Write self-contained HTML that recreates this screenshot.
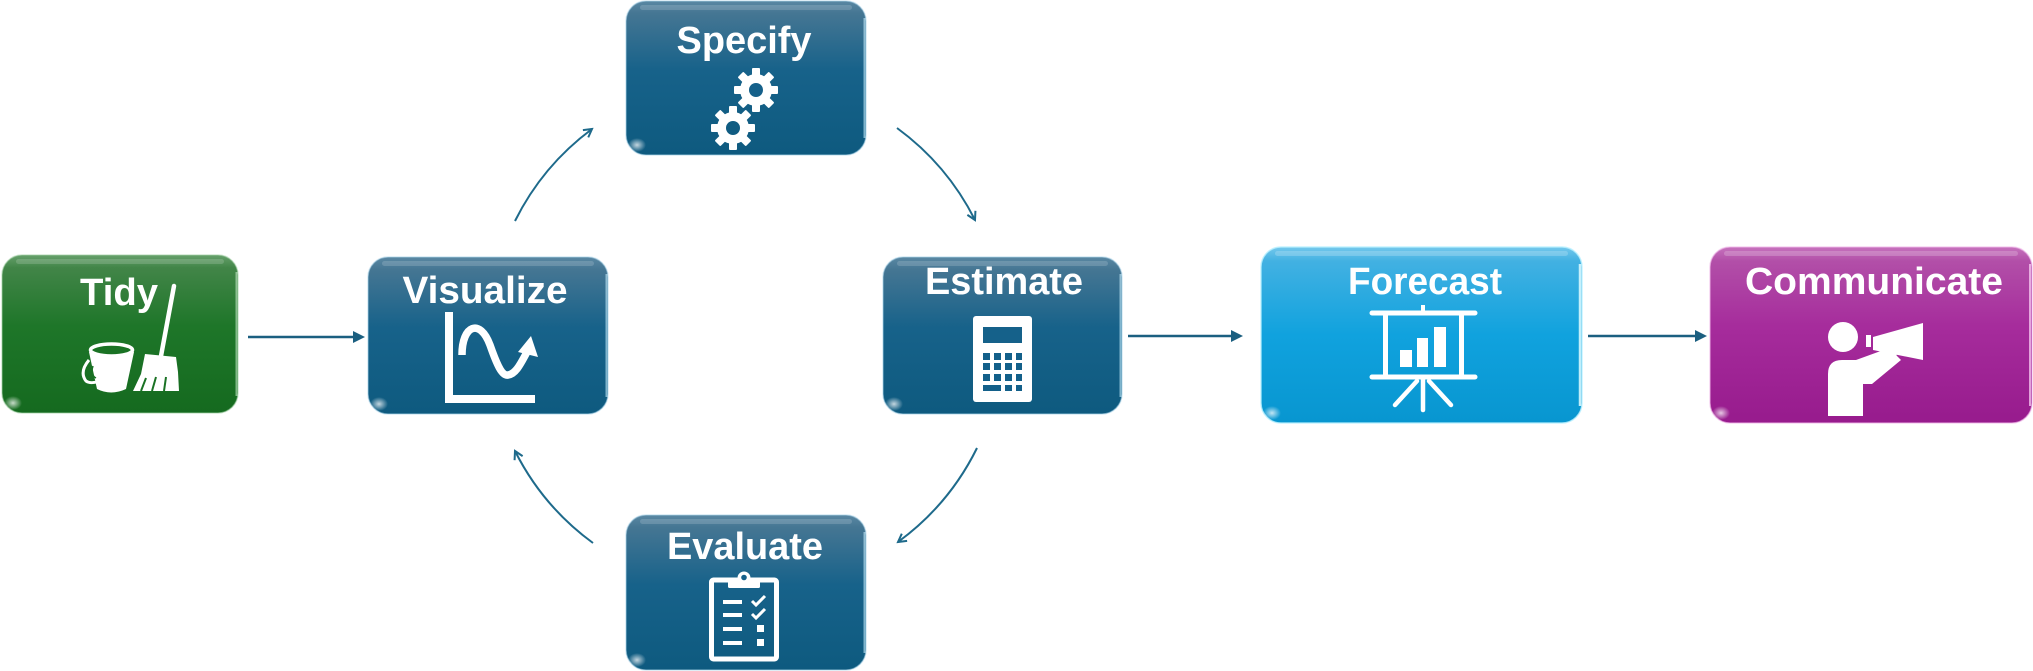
<!DOCTYPE html>
<html>
<head>
<meta charset="utf-8">
<style>
  html,body{margin:0;padding:0;background:#ffffff;}
  svg{display:block;}
  .lbl{font-family:"Liberation Sans",Arial,sans-serif;font-weight:bold;font-size:38px;fill:#ffffff;}
</style>
</head>
<body>
<svg width="2033" height="671" viewBox="0 0 2033 671" xmlns="http://www.w3.org/2000/svg">
  <defs>
    <linearGradient id="gBlue" x1="0" y1="0" x2="0" y2="1">
      <stop offset="0" stop-color="#5a88a3"/>
      <stop offset="0.08" stop-color="#457693"/>
      <stop offset="0.45" stop-color="#17628a"/>
      <stop offset="1" stop-color="#0e5a7f"/>
    </linearGradient>
    <linearGradient id="gGreen" x1="0" y1="0" x2="0" y2="1">
      <stop offset="0" stop-color="#66a06b"/>
      <stop offset="0.08" stop-color="#428548"/>
      <stop offset="0.45" stop-color="#1e7629"/>
      <stop offset="1" stop-color="#156a1f"/>
    </linearGradient>
    <linearGradient id="gCyan" x1="0" y1="0" x2="0" y2="1">
      <stop offset="0" stop-color="#74c8ec"/>
      <stop offset="0.08" stop-color="#42b1e2"/>
      <stop offset="0.5" stop-color="#10a2de"/>
      <stop offset="1" stop-color="#0896d0"/>
    </linearGradient>
    <linearGradient id="gPurple" x1="0" y1="0" x2="0" y2="1">
      <stop offset="0" stop-color="#c672bd"/>
      <stop offset="0.08" stop-color="#b24fa8"/>
      <stop offset="0.45" stop-color="#a62c9c"/>
      <stop offset="1" stop-color="#971b8d"/>
    </linearGradient>
    <radialGradient id="glow" cx="0.5" cy="0.5" r="0.5">
      <stop offset="0" stop-color="#ffffff" stop-opacity="0.75"/>
      <stop offset="1" stop-color="#ffffff" stop-opacity="0"/>
    </radialGradient>
    <marker id="openHead" markerUnits="userSpaceOnUse" markerWidth="12" markerHeight="12" refX="10" refY="6" orient="auto">
      <path d="M2,1.5 L10,6 L2,10.5" fill="none" stroke="#1e6a8b" stroke-width="2"/>
    </marker>
  </defs>

  <!-- ============ BOXES ============ -->
  <!-- Tidy -->
  <g>
    <rect x="2" y="255" width="236" height="158" rx="20" fill="url(#gGreen)" stroke="#9fd0a3" stroke-opacity="0.5" stroke-width="1.5"/>
    <rect x="16" y="259" width="208" height="5" rx="2.5" fill="#ffffff" fill-opacity="0.16"/>
    <line x1="236.5" y1="272" x2="236.5" y2="396" stroke="#d8f5da" stroke-opacity="0.55" stroke-width="2"/>
    <ellipse cx="13" cy="403" rx="9" ry="7" fill="url(#glow)"/>
  </g>
  <!-- Visualize -->
  <g>
    <rect x="368" y="257" width="240" height="157" rx="20" fill="url(#gBlue)" stroke="#a9d3ea" stroke-opacity="0.5" stroke-width="1.5"/>
    <rect x="382" y="261" width="212" height="5" rx="2.5" fill="#ffffff" fill-opacity="0.16"/>
    <line x1="606.5" y1="274" x2="606.5" y2="397" stroke="#c9f0ff" stroke-opacity="0.6" stroke-width="2"/>
    <ellipse cx="379" cy="404" rx="9" ry="7" fill="url(#glow)"/>
  </g>
  <!-- Specify -->
  <g>
    <rect x="626" y="1" width="240" height="154" rx="20" fill="url(#gBlue)" stroke="#a9d3ea" stroke-opacity="0.5" stroke-width="1.5"/>
    <rect x="640" y="5" width="212" height="5" rx="2.5" fill="#ffffff" fill-opacity="0.16"/>
    <line x1="864.5" y1="18" x2="864.5" y2="138" stroke="#c9f0ff" stroke-opacity="0.6" stroke-width="2"/>
    <ellipse cx="637" cy="145" rx="9" ry="7" fill="url(#glow)"/>
  </g>
  <!-- Estimate -->
  <g>
    <rect x="883" y="257" width="239" height="157" rx="20" fill="url(#gBlue)" stroke="#a9d3ea" stroke-opacity="0.5" stroke-width="1.5"/>
    <rect x="897" y="261" width="211" height="5" rx="2.5" fill="#ffffff" fill-opacity="0.16"/>
    <line x1="1120.5" y1="274" x2="1120.5" y2="397" stroke="#c9f0ff" stroke-opacity="0.6" stroke-width="2"/>
    <ellipse cx="894" cy="404" rx="9" ry="7" fill="url(#glow)"/>
  </g>
  <!-- Evaluate -->
  <g>
    <rect x="626" y="515" width="240" height="155" rx="20" fill="url(#gBlue)" stroke="#a9d3ea" stroke-opacity="0.5" stroke-width="1.5"/>
    <rect x="640" y="519" width="212" height="5" rx="2.5" fill="#ffffff" fill-opacity="0.16"/>
    <line x1="864.5" y1="532" x2="864.5" y2="653" stroke="#c9f0ff" stroke-opacity="0.6" stroke-width="2"/>
    <ellipse cx="637" cy="660" rx="9" ry="7" fill="url(#glow)"/>
  </g>
  <!-- Forecast -->
  <g>
    <rect x="1261" y="247" width="321" height="176" rx="20" fill="url(#gCyan)" stroke="#b8f0ff" stroke-opacity="0.8" stroke-width="1.5"/>
    <rect x="1275" y="251" width="293" height="5" rx="2.5" fill="#ffffff" fill-opacity="0.2"/>
    <line x1="1580" y1="264" x2="1580" y2="406" stroke="#e0fbff" stroke-opacity="0.85" stroke-width="2.5"/>
    <ellipse cx="1272" cy="413" rx="9" ry="7" fill="url(#glow)"/>
  </g>
  <!-- Communicate -->
  <g>
    <rect x="1710" y="247" width="322" height="176" rx="20" fill="url(#gPurple)" stroke="#f0b8ea" stroke-opacity="0.6" stroke-width="1.5"/>
    <rect x="1724" y="251" width="294" height="5" rx="2.5" fill="#ffffff" fill-opacity="0.2"/>
    <line x1="2030" y1="264" x2="2030" y2="406" stroke="#ffd8fa" stroke-opacity="0.7" stroke-width="2"/>
    <ellipse cx="1721" cy="413" rx="9" ry="7" fill="url(#glow)"/>
  </g>

  <!-- ============ LABELS ============ -->
  <text class="lbl" x="119" y="305" text-anchor="middle" textLength="78" lengthAdjust="spacingAndGlyphs">Tidy</text>
  <text class="lbl" x="485" y="303" text-anchor="middle" textLength="165" lengthAdjust="spacingAndGlyphs">Visualize</text>
  <text class="lbl" x="744" y="53" text-anchor="middle" textLength="135" lengthAdjust="spacingAndGlyphs">Specify</text>
  <text class="lbl" x="1004" y="294" text-anchor="middle" textLength="158" lengthAdjust="spacingAndGlyphs">Estimate</text>
  <text class="lbl" x="745" y="559" text-anchor="middle" textLength="156" lengthAdjust="spacingAndGlyphs">Evaluate</text>
  <text class="lbl" x="1425" y="294" text-anchor="middle" textLength="154" lengthAdjust="spacingAndGlyphs">Forecast</text>
  <text class="lbl" x="1874" y="294" text-anchor="middle" textLength="258" lengthAdjust="spacingAndGlyphs">Communicate</text>

  <!-- ============ ICONS ============ -->
  <!-- Tidy: bucket + broom -->
  <g>
    <path d="M89 352 L97 389 Q111 396 126 389 L134 352 Z" fill="#ffffff"/>
    <ellipse cx="111.5" cy="350" rx="21" ry="6" fill="#1a7224" stroke="#ffffff" stroke-width="3.5"/>
    <path d="M89 360 Q79 372 86 381 Q96 388 127 365" fill="none" stroke="#ffffff" stroke-width="3"/>
    <path d="M93 366 Q90 375 96 378" fill="none" stroke="#1a7224" stroke-width="1.5"/>
    <line x1="174" y1="286" x2="161" y2="356" stroke="#ffffff" stroke-width="4.5" stroke-linecap="round"/>
    <path d="M145 354 L176 357 L178 372 L179 391 L133 391 L141 374 Z" fill="#ffffff"/>
    <line x1="146" y1="378" x2="141" y2="391" stroke="#1a7224" stroke-width="2"/>
    <line x1="156" y1="377" x2="152" y2="391" stroke="#1a7224" stroke-width="2"/>
    <line x1="166" y1="377" x2="164" y2="391" stroke="#1a7224" stroke-width="2"/>
  </g>

  <!-- Visualize: chart -->
  <g>
    <rect x="445" y="312" width="8" height="91" fill="#ffffff"/>
    <rect x="445" y="395" width="90" height="8" fill="#ffffff"/>
    <path d="M462 355 C462 325 480 318 490 345 C497 365 502 376 508 375 C516 374 521 363 527 352" fill="none" stroke="#ffffff" stroke-width="7.5"/>
    <polygon points="531,336 518,352 538,357" fill="#ffffff"/>
  </g>

  <!-- Specify: gears -->
  <g transform="translate(756,90)">
    <circle r="16" fill="#ffffff"/>
    <g fill="#ffffff">
      <rect x="-4" y="-22" width="8" height="9" rx="1"/>
      <rect x="-4" y="-22" width="8" height="9" rx="1" transform="rotate(45)"/>
      <rect x="-4" y="-22" width="8" height="9" rx="1" transform="rotate(90)"/>
      <rect x="-4" y="-22" width="8" height="9" rx="1" transform="rotate(135)"/>
      <rect x="-4" y="-22" width="8" height="9" rx="1" transform="rotate(180)"/>
      <rect x="-4" y="-22" width="8" height="9" rx="1" transform="rotate(225)"/>
      <rect x="-4" y="-22" width="8" height="9" rx="1" transform="rotate(270)"/>
      <rect x="-4" y="-22" width="8" height="9" rx="1" transform="rotate(315)"/>
    </g>
    <circle r="7" fill="#15608a"/>
  </g>
  <g transform="translate(733,128)">
    <circle r="16" fill="#ffffff"/>
    <g fill="#ffffff">
      <rect x="-4" y="-22" width="8" height="9" rx="1"/>
      <rect x="-4" y="-22" width="8" height="9" rx="1" transform="rotate(45)"/>
      <rect x="-4" y="-22" width="8" height="9" rx="1" transform="rotate(90)"/>
      <rect x="-4" y="-22" width="8" height="9" rx="1" transform="rotate(135)"/>
      <rect x="-4" y="-22" width="8" height="9" rx="1" transform="rotate(180)"/>
      <rect x="-4" y="-22" width="8" height="9" rx="1" transform="rotate(225)"/>
      <rect x="-4" y="-22" width="8" height="9" rx="1" transform="rotate(270)"/>
      <rect x="-4" y="-22" width="8" height="9" rx="1" transform="rotate(315)"/>
    </g>
    <circle r="7" fill="#105c82"/>
  </g>

  <!-- Estimate: calculator -->
  <g>
    <rect x="973" y="316" width="59" height="86" rx="3" fill="#ffffff"/>
    <rect x="983" y="327" width="39" height="16" fill="#15618a"/>
    <g fill="#13608a">
      <rect x="983" y="353" width="7" height="7"/><rect x="994" y="353" width="7" height="7"/><rect x="1005" y="353" width="7" height="7"/><rect x="1016" y="353" width="6" height="7"/>
      <rect x="983" y="363" width="7" height="7"/><rect x="994" y="363" width="7" height="7"/><rect x="1005" y="363" width="7" height="7"/><rect x="1016" y="363" width="6" height="7"/>
      <rect x="983" y="374" width="7" height="7"/><rect x="994" y="374" width="7" height="7"/><rect x="1005" y="374" width="7" height="7"/><rect x="1016" y="374" width="6" height="7"/>
      <rect x="983" y="385" width="18" height="6"/><rect x="1005" y="385" width="7" height="6"/><rect x="1016" y="385" width="6" height="6"/>
    </g>
  </g>

  <!-- Evaluate: clipboard -->
  <g>
    <rect x="711.5" y="580" width="65" height="79" rx="2" fill="none" stroke="#ffffff" stroke-width="5"/>
    <rect x="728" y="579" width="32" height="9" rx="1.5" fill="#ffffff"/>
    <circle cx="744" cy="578" r="6.5" fill="#ffffff"/>
    <circle cx="744" cy="577.5" r="2.8" fill="#15608a"/>
    <g fill="#ffffff">
      <rect x="723" y="600" width="19" height="4"/>
      <rect x="723" y="613" width="19" height="4"/>
      <rect x="723" y="627" width="19" height="4"/>
      <rect x="723" y="641" width="19" height="4"/>
      <rect x="757" y="625" width="7" height="7"/>
      <rect x="757" y="639" width="7" height="7"/>
    </g>
    <path d="M752 601 L756 605 L765 596" fill="none" stroke="#ffffff" stroke-width="3"/>
    <path d="M752 614 L756 618 L765 609" fill="none" stroke="#ffffff" stroke-width="3"/>
  </g>

  <!-- Forecast: presentation screen -->
  <g>
    <line x1="1423" y1="305" x2="1423" y2="312" stroke="#ffffff" stroke-width="4"/>
    <line x1="1372" y1="313" x2="1475" y2="313" stroke="#ffffff" stroke-width="5" stroke-linecap="round"/>
    <rect x="1385.5" y="313" width="76" height="64" fill="none" stroke="#ffffff" stroke-width="5"/>
    <line x1="1372" y1="377" x2="1475" y2="377" stroke="#ffffff" stroke-width="5" stroke-linecap="round"/>
    <line x1="1423" y1="378" x2="1423" y2="410" stroke="#ffffff" stroke-width="4.5" stroke-linecap="round"/>
    <line x1="1417" y1="381" x2="1395" y2="405" stroke="#ffffff" stroke-width="4.5" stroke-linecap="round"/>
    <line x1="1429" y1="381" x2="1451" y2="405" stroke="#ffffff" stroke-width="4.5" stroke-linecap="round"/>
    <rect x="1400" y="350" width="12" height="17" fill="#ffffff"/>
    <rect x="1417" y="338" width="11" height="29" fill="#ffffff"/>
    <rect x="1434" y="327" width="12" height="40" fill="#ffffff"/>
  </g>

  <!-- Communicate: person with megaphone -->
  <g fill="#ffffff">
    <circle cx="1843" cy="337" r="15"/>
    <path d="M1828 416 L1828 374 Q1828 360 1842 360 L1856 360 L1889 348 L1901 360 L1872 384 L1863 384 L1863 416 Z"/>
    <rect x="1866" y="335" width="5" height="12"/>
    <polygon points="1873,337 1923,323 1923,360 1873,350"/>
    <polygon points="1884,350 1897,353 1895,362 1886,358"/>
  </g>

  <!-- ============ CONNECTORS ============ -->
  <g stroke="#1b5f80" stroke-width="2.5" fill="none">
    <line x1="248" y1="337" x2="356" y2="337"/>
    <line x1="1128" y1="336" x2="1234" y2="336"/>
    <line x1="1588" y1="336" x2="1698" y2="336"/>
  </g>
  <g fill="#1b5f80">
    <polygon points="365,337 353,331 353,343"/>
    <polygon points="1243,336 1231,330 1231,342"/>
    <polygon points="1707,336 1695,330 1695,342"/>
  </g>

  <g stroke="#1e6a8b" stroke-width="2" fill="none" marker-end="url(#openHead)">
    <path d="M515 221 A257 257 0 0 1 592 129"/>
    <path d="M897 128 A257 257 0 0 1 975 220"/>
    <path d="M977 448 A257 257 0 0 1 898 542"/>
    <path d="M593 543 A257 257 0 0 1 515 451"/>
  </g>
</svg>
</body>
</html>
